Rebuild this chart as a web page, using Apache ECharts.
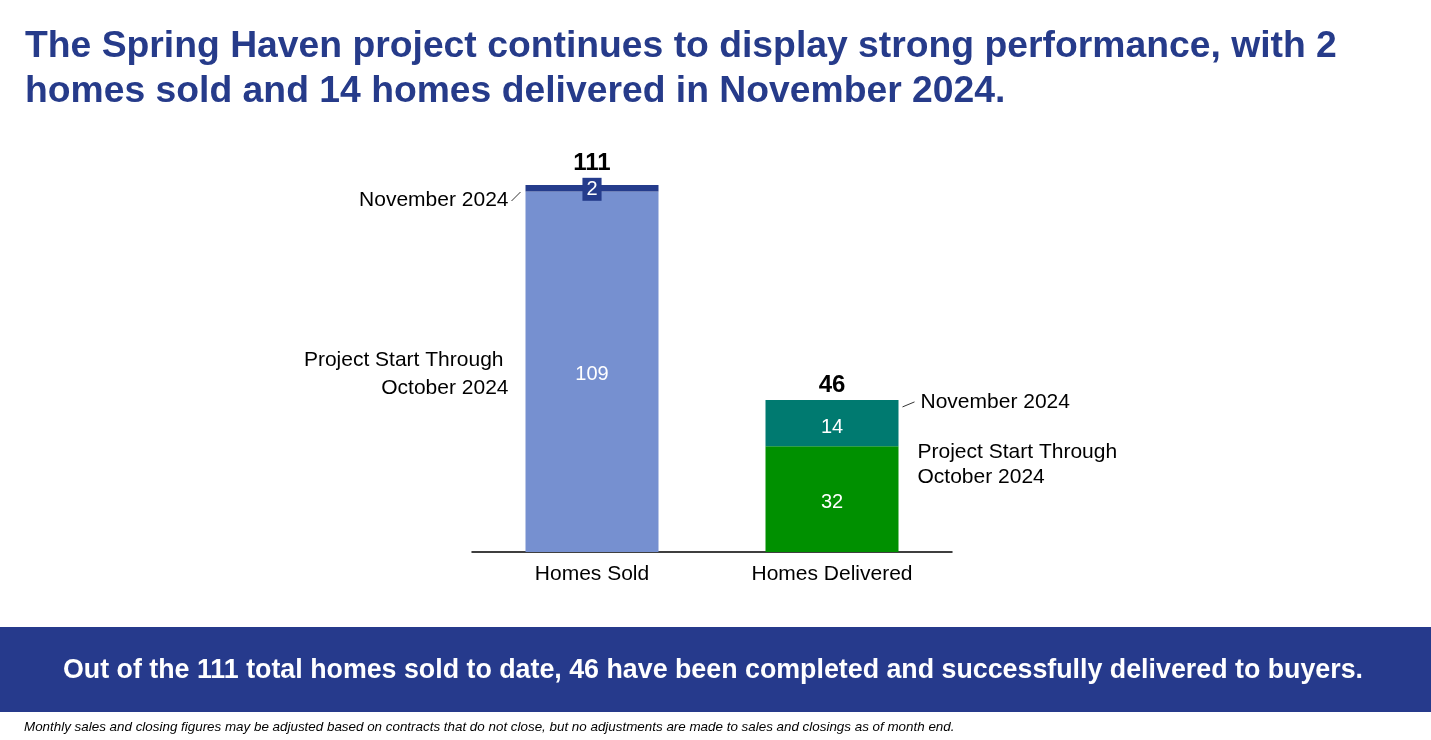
<!DOCTYPE html>
<html>
<head>
<meta charset="utf-8">
<script src="https://cdn.jsdelivr.net/npm/echarts@6/dist/echarts.min.js"></script>
<style>
html, body { margin: 0; padding: 0; background: #fff; }
#main { width: 1431px; height: 740px; }
</style>
</head>
<body>
<div id="main"></div>
<script>
var categories = ['Homes Sold', 'Homes Delivered'];
var throughOct = [109, 32];
var november = [2, 14];
var baseColors = ['#7690D0', '#009000'];
var novColors = ['#253C8C', '#007A70'];
var totals = throughOct.map(function (v, i) { return v + november[i]; });

var FONT = 'Liberation Sans, Arial, sans-serif';
var myChart = echarts.init(document.getElementById('main'));

option = {
    backgroundColor: '#fff',
    animation: false,
    title: {
        text: 'The Spring Haven project continues to display strong performance, with 2\nhomes sold and 14 homes delivered in November 2024.',
        left: 20,
        top: 19,
        textStyle: {
            color: '#263B8A',
            fontFamily: FONT,
            fontWeight: 'bold',
            fontSize: 37.3,
            lineHeight: 45
        }
    },
    grid: {
        left: 472,
        right: 479,
        top: 185,
        bottom: 188
    },
    xAxis: {
        type: 'category',
        data: categories,
        axisLine: { lineStyle: { color: '#000', width: 1.5 } },
        axisTick: { show: false },
        axisLabel: {
            color: '#000',
            fontFamily: FONT,
            fontSize: 21,
            margin: 12
        }
    },
    yAxis: {
        type: 'value',
        min: 0,
        max: 111,
        show: false,
        splitLine: { show: false }
    },
    series: [
        {
            name: 'Project Start Through October 2024',
            type: 'bar',
            stack: 'total',
            barWidth: 133,
            data: throughOct.map(function (v, i) {
                return { value: v, itemStyle: { color: baseColors[i] } };
            }),
            label: {
                show: true,
                position: 'inside',
                offset: [0, 3],
                color: '#fff',
                fontFamily: FONT,
                fontSize: 20
            }
        },
        {
            name: 'November 2024',
            type: 'bar',
            stack: 'total',
            data: november.map(function (v, i) {
                var d = { value: v, itemStyle: { color: novColors[i] } };
                if (i === 0) {
                    d.label = {
                        offset: [0, 1],
                        backgroundColor: novColors[0],
                        padding: [2, 4, 1, 4]
                    };
                }
                return d;
            }),
            label: {
                show: true,
                position: 'inside',
                offset: [0, 4],
                color: '#fff',
                fontFamily: FONT,
                fontSize: 20
            }
        },
        {
            name: 'Total',
            type: 'bar',
            stack: 'total',
            data: totals.map(function (v, i) {
                return { value: 0, label: { distance: i === 0 ? 10 : 3 } };
            }),
            label: {
                show: true,
                position: 'top',
                color: '#000',
                fontFamily: FONT,
                fontWeight: 'bold',
                fontSize: 24,
                formatter: function (p) { return totals[p.dataIndex]; }
            }
        }
    ]
};

myChart.setOption(option);

// side notes, placed from the axis scale
var half = 66.5;
var pTop0 = myChart.convertToPixel({ xAxisIndex: 0, yAxisIndex: 0 }, [0, totals[0]]);
var pMid0 = myChart.convertToPixel({ xAxisIndex: 0, yAxisIndex: 0 }, [0, throughOct[0] / 2]);
var pTop1 = myChart.convertToPixel({ xAxisIndex: 0, yAxisIndex: 0 }, [1, totals[1]]);
var pOct1 = myChart.convertToPixel({ xAxisIndex: 0, yAxisIndex: 0 }, [1, throughOct[1]]);

var noteStyle = { fill: '#000', font: '21px ' + FONT };
var leader = { stroke: '#000', lineWidth: 0.8 };

myChart.setOption({
    graphic: [
        {
            type: 'text',
            x: pTop0[0] - half - 17, y: pTop0[1] + 15,
            style: Object.assign({ text: 'November 2024', textAlign: 'right', textVerticalAlign: 'middle' }, noteStyle)
        },
        {
            type: 'line',
            shape: { x1: pTop0[0] - half - 14, y1: pTop0[1] + 16, x2: pTop0[0] - half - 5, y2: pTop0[1] + 7 },
            style: leader
        },
        {
            type: 'text',
            x: pMid0[0] - half - 22, y: pMid0[1] - 12,
            style: Object.assign({ text: 'Project Start Through', textAlign: 'right', textVerticalAlign: 'middle' }, noteStyle)
        },
        {
            type: 'text',
            x: pMid0[0] - half - 17, y: pMid0[1] + 16,
            style: Object.assign({ text: 'October 2024', textAlign: 'right', textVerticalAlign: 'middle' }, noteStyle)
        },
        {
            type: 'text',
            x: pTop1[0] + half + 22, y: pTop1[1] + 2,
            style: Object.assign({ text: 'November 2024', textAlign: 'left', textVerticalAlign: 'middle' }, noteStyle)
        },
        {
            type: 'line',
            shape: { x1: pTop1[0] + half + 4, y1: pTop1[1] + 7, x2: pTop1[0] + half + 16, y2: pTop1[1] + 2 },
            style: leader
        },
        {
            type: 'text',
            x: pOct1[0] + half + 19, y: pOct1[1] + 6,
            style: Object.assign({ text: 'Project Start Through', textAlign: 'left', textVerticalAlign: 'middle' }, noteStyle)
        },
        {
            type: 'text',
            x: pOct1[0] + half + 19, y: pOct1[1] + 31,
            style: Object.assign({ text: 'October 2024', textAlign: 'left', textVerticalAlign: 'middle' }, noteStyle)
        },
        {
            type: 'rect',
            shape: { x: 0, y: 627, width: 1431, height: 85 },
            style: { fill: '#263A8C' }
        },
        {
            type: 'text',
            x: 713, y: 671,
            style: {
                text: 'Out of the 111 total homes sold to date, 46 have been completed and successfully delivered to buyers.',
                textAlign: 'center',
                textVerticalAlign: 'middle',
                fill: '#fff',
                font: 'bold 26.8px ' + FONT
            }
        },
        {
            type: 'text',
            x: 24, y: 727,
            style: {
                text: 'Monthly sales and closing figures may be adjusted based on contracts that do not close, but no adjustments are made to sales and closings as of month end.',
                textAlign: 'left',
                textVerticalAlign: 'middle',
                fill: '#000',
                font: 'italic 13.4px ' + FONT
            }
        }
    ]
});
</script>
</body>
</html>
